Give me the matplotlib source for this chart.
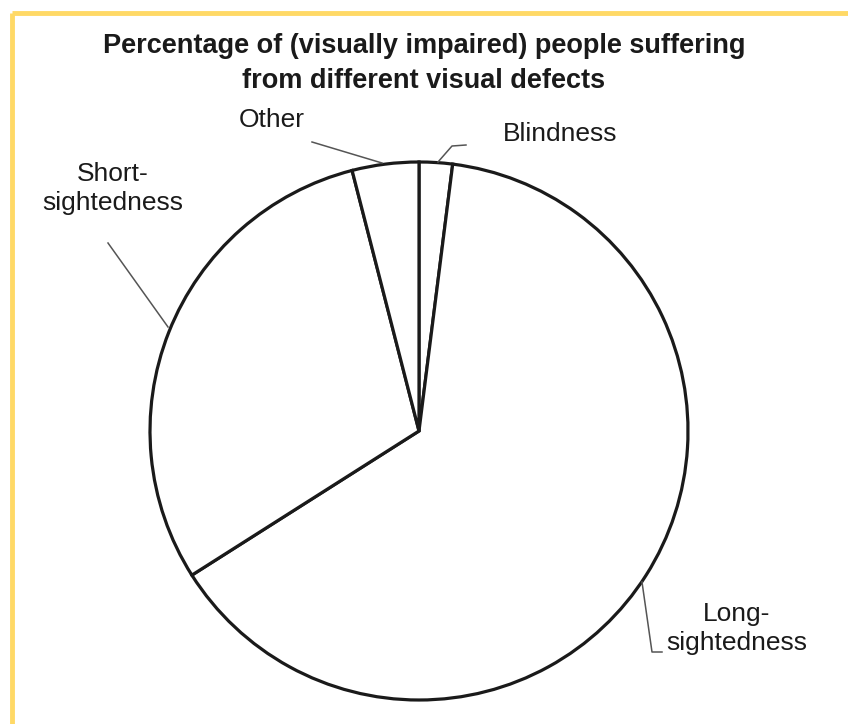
import matplotlib
matplotlib.use("Agg")
import matplotlib.pyplot as plt

categories = ["Blindness", "Long-sightedness", "Short-sightedness", "Other"]
values = [2, 64, 30, 4]
title_lines = ["Percentage of (visually impaired) people suffering",
               "from different visual defects"]

W, H = 848, 724
fig = plt.figure(figsize=(W / 100, H / 100), dpi=100)
ax = fig.add_axes([0, 0, 1, 1])

def Y(y):
    return H - y

cx, cy, r = 419, 431, 269
ax.pie(values, startangle=90, counterclock=False, center=(cx, Y(cy)), radius=r,
       colors=["white"] * len(values),
       wedgeprops=dict(edgecolor="#1a1a1a", linewidth=2.3))
ax.set_xlim(0, W)
ax.set_ylim(0, H)
ax.set_aspect("equal")
ax.axis("off")

# yellow frame (top and left)
ax.plot([12, W], [Y(13), Y(13)], color="#FFD966", lw=3.5, solid_capstyle="butt")
ax.plot([12, 12], [Y(13), 0], color="#FFD966", lw=3.5, solid_capstyle="butt")

fam = ["Liberation Sans", "DejaVu Sans"]
tc = "#1a1a1a"
for line, yb in zip(title_lines, [53, 88]):
    ax.text(424, Y(yb), line, ha="center", va="baseline", fontsize=19.5,
            fontweight="bold", family=fam, color=tc)

def label(lines, xc, baselines):
    for s, yb in zip(lines, baselines):
        ax.text(xc, Y(yb), s, ha="center", va="baseline", fontsize=19,
                family=fam, color=tc)

lc = "#555555"
lw = 1.1
# Other
ax.plot([312, 382], [Y(142), Y(163)], color=lc, lw=lw)
label(["Other"], 272, [127])
# Blindness
ax.plot([438, 452, 466], [Y(162), Y(146), Y(145)], color=lc, lw=lw)
label(["Blindness"], 560, [141])
# Short-sightedness
ax.plot([108, 168], [Y(243), Y(327)], color=lc, lw=lw)
label(["Short-", "sightedness"], 113, [181, 210])
# Long-sightedness
ax.plot([642, 652, 662], [Y(582), Y(652), Y(652)], color=lc, lw=lw)
label(["Long-", "sightedness"], 737, [621, 650])

fig.savefig("out.png", dpi=100, facecolor="white")
